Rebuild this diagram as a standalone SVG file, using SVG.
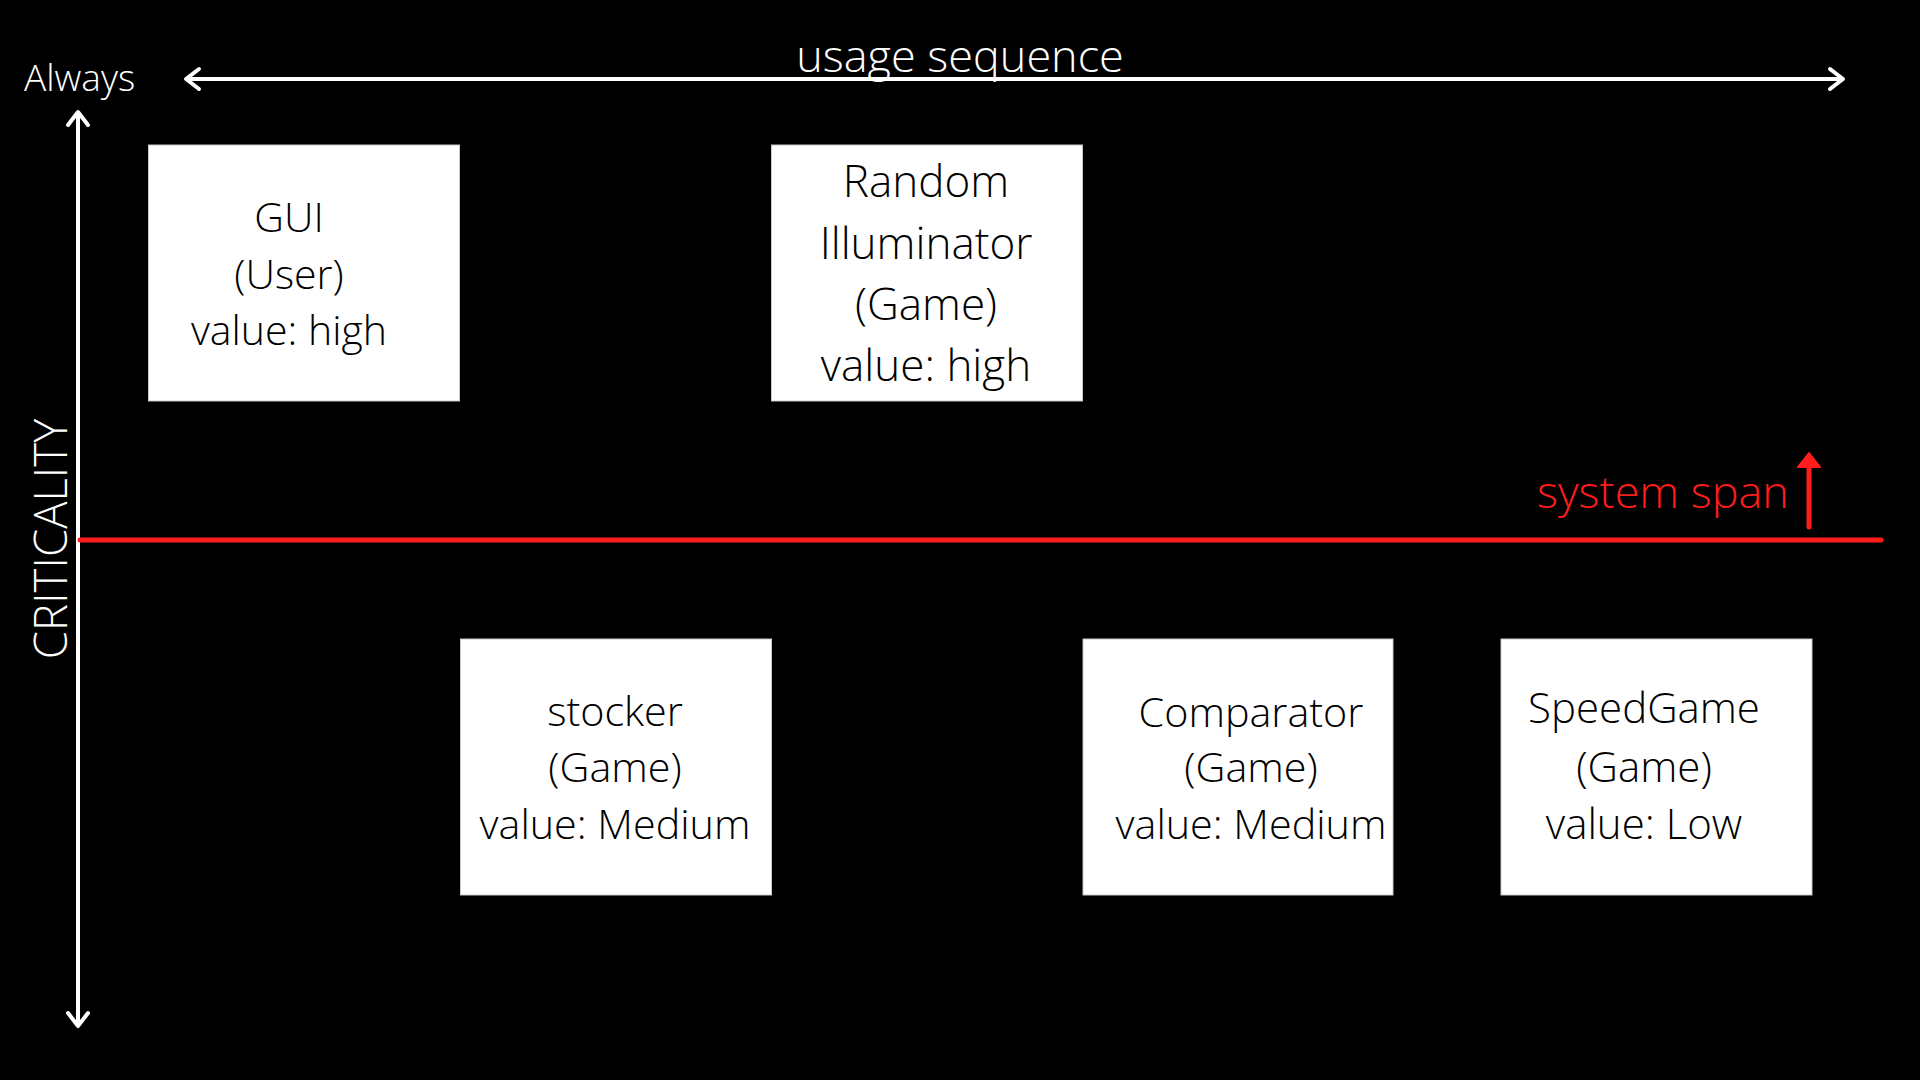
<svg xmlns="http://www.w3.org/2000/svg" width="1920" height="1080" viewBox="0 0 1920 1080">
<defs>
<style>
.bg{fill:#000}
.box{fill:#fff;stroke:#c8c8c8;stroke-width:1}
.t{font-family:"Open Sans","Liberation Sans",sans-serif;font-weight:300;fill:#000;text-anchor:middle}
.w{font-family:"Open Sans","Liberation Sans",sans-serif;font-weight:300;fill:#fff}
.axis{stroke:#fff;stroke-width:4;fill:none}
.red{stroke:#ff1c1c;stroke-width:5;fill:none;stroke-linecap:round}
</style>
<marker id="chev" viewBox="-20 -14 24 28" markerUnits="userSpaceOnUse" markerWidth="24" markerHeight="28" refX="0" refY="0" orient="auto-start-reverse">
<path d="M -13 -10 L 0 0 L -13 10" fill="none" stroke="#fff" stroke-width="4" stroke-linecap="round" stroke-linejoin="round"/>
</marker>
</defs>
<rect class="bg" x="0" y="0" width="1920" height="1080"/>

<g id="connectors">
<line class="axis" x1="186" y1="79" x2="1843" y2="79" marker-start="url(#chev)" marker-end="url(#chev)"/>
<line class="axis" x1="78" y1="112" x2="78" y2="1026" marker-start="url(#chev)" marker-end="url(#chev)"/>
<line class="red" x1="80" y1="540" x2="1881" y2="540"/>
<line class="red" x1="1809" y1="527" x2="1809" y2="464"/>
<polygon points="1798,467 1809,453 1820,467" fill="#ff1c1c" stroke="#ff1c1c" stroke-width="2" stroke-linejoin="round"/>
</g>

<g id="labels">
<text class="w" x="960" y="72" font-size="45" text-anchor="middle">usage sequence</text>
<text class="w" x="24" y="91" font-size="37">Always</text>
<text class="w" x="0" y="0" font-size="45.5" text-anchor="middle" transform="translate(67,539) rotate(-90)">CRITICALITY</text>
<text x="1537" y="508" font-size="45" font-family="'Open Sans','Liberation Sans',sans-serif" font-weight="300" fill="#ff1c1c">system span</text>
</g>

<g id="node-gui">
<rect class="box" x="148.5" y="145" width="311" height="256"/>
<text class="t" font-size="41"><tspan x="289" y="232">GUI</tspan><tspan x="289" y="289">(User)</tspan><tspan x="289" y="345">value: high</tspan></text>
</g>

<g id="node-random">
<rect class="box" x="771.5" y="145" width="311" height="256"/>
<text class="t" font-size="44"><tspan x="926" y="197">Random</tspan><tspan x="926" y="259">Illuminator</tspan><tspan x="926" y="320">(Game)</tspan><tspan x="926" y="381">value: high</tspan></text>
</g>

<g id="node-stocker">
<rect class="box" x="460.5" y="639" width="311" height="256"/>
<text class="t" font-size="41.3"><tspan x="615" y="726">stocker</tspan><tspan x="615" y="782">(Game)</tspan><tspan x="615" y="839">value: Medium</tspan></text>
</g>

<g id="node-comparator">
<rect class="box" x="1083" y="639" width="310" height="256"/>
<text class="t" font-size="41.3"><tspan x="1251" y="727">Comparator</tspan><tspan x="1251" y="782">(Game)</tspan><tspan x="1251" y="839">value: Medium</tspan></text>
</g>

<g id="node-speedgame">
<rect class="box" x="1501" y="639" width="311" height="256"/>
<text class="t" font-size="42"><tspan x="1644" y="723">SpeedGame</tspan><tspan x="1644" y="782">(Game)</tspan><tspan x="1644" y="839">value: Low</tspan></text>
</g>
</svg>
